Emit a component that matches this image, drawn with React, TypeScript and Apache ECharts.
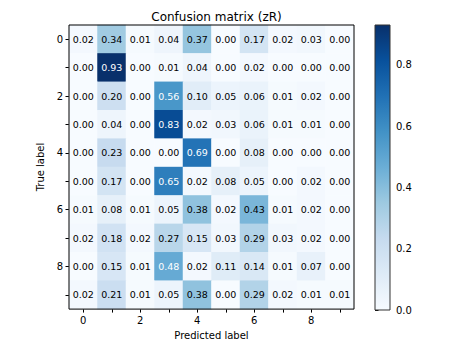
import React, { useEffect, useRef } from "react";
import * as echarts from "echarts";

const predictedLabels = ["0", "1", "2", "3", "4", "5", "6", "7", "8", "9"];
const trueLabels = ["0", "1", "2", "3", "4", "5", "6", "7", "8", "9"];
const row0 = [0.02, 0.34, 0.01, 0.04, 0.37, 0.0, 0.17, 0.02, 0.03, 0.0];
const row1 = [0.0, 0.93, 0.0, 0.01, 0.04, 0.0, 0.02, 0.0, 0.0, 0.0];
const row2 = [0.0, 0.2, 0.0, 0.56, 0.1, 0.05, 0.06, 0.01, 0.02, 0.0];
const row3 = [0.0, 0.04, 0.0, 0.83, 0.02, 0.03, 0.06, 0.01, 0.01, 0.0];
const row4 = [0.0, 0.23, 0.0, 0.0, 0.69, 0.0, 0.08, 0.0, 0.0, 0.0];
const row5 = [0.0, 0.17, 0.0, 0.65, 0.02, 0.08, 0.05, 0.0, 0.02, 0.0];
const row6 = [0.01, 0.08, 0.01, 0.05, 0.38, 0.02, 0.43, 0.01, 0.02, 0.0];
const row7 = [0.02, 0.18, 0.02, 0.27, 0.15, 0.03, 0.29, 0.03, 0.02, 0.0];
const row8 = [0.0, 0.15, 0.01, 0.48, 0.02, 0.11, 0.14, 0.01, 0.07, 0.0];
const row9 = [0.02, 0.21, 0.01, 0.05, 0.38, 0.0, 0.29, 0.02, 0.01, 0.01];
const matrix = [row0, row1, row2, row3, row4, row5, row6, row7, row8, row9];
const colorbarTicks = [0, 0.2, 0.4, 0.6, 0.8];

const blues = ["#f7fbff", "#deebf7", "#c6dbef", "#9ecae1", "#6baed6", "#4292c6", "#2171b5", "#08519c", "#08306b"];

const FONT = "DejaVu Sans";

export default function App() {
  const ref = useRef<HTMLDivElement>(null);
  useEffect(() => {
    if (!ref.current) return;
    const chart = echarts.init(ref.current, null, { renderer: "svg" });
    let vmax = 0;
    matrix.forEach((r) => r.forEach((v) => (vmax = Math.max(vmax, v))));
    const data: any[] = [];
    matrix.forEach((r, i) =>
      r.forEach((v, j) => {
        data.push({
          value: [j, i, v],
          label: { color: v > vmax / 2 ? "#ffffff" : "#000000" },
        });
      })
    );
    const gL = 69, gT = 25, gW = 285, gH = 285;
    const cbL = 375, cbW = 15, cbT = 25, cbH = 285;
    const stops = blues.map((c, i) => ({ offset: i / (blues.length - 1), color: c }));
    chart.setOption({
      animation: false,
      backgroundColor: "#ffffff",
      textStyle: { fontFamily: FONT },
      title: {
        text: "Confusion matrix (zR)",
        left: gL + gW / 2,
        textAlign: "center",
        top: 6,
        textStyle: { fontFamily: FONT, fontSize: 12, fontWeight: "normal", color: "#000" },
      },
      grid: [
        { left: gL, top: gT, width: gW, height: gH, show: true, borderColor: "#000", borderWidth: 1, backgroundColor: "transparent", z: 5 },
        { left: cbL, top: cbT, width: cbW, height: cbH, show: true, borderColor: "#333", borderWidth: 1, backgroundColor: "transparent", z: 5 },
      ],
      xAxis: [
        {
          type: "category",
          gridIndex: 0,
          data: predictedLabels,
          name: "Predicted label",
          nameLocation: "middle",
          nameGap: 19,
          nameTextStyle: { fontFamily: FONT, fontSize: 10, color: "#000" },
          axisLine: { show: false },
          axisTick: { show: true, alignWithLabel: true, interval: 0, length: 3.5, lineStyle: { color: "#000" } },
          axisLabel: { interval: 1, fontFamily: FONT, fontSize: 10, color: "#000", margin: 6 },
          splitLine: { show: false },
        },
        { type: "value", gridIndex: 1, show: false, min: 0, max: 1 },
      ],
      yAxis: [
        {
          type: "category",
          gridIndex: 0,
          data: trueLabels,
          inverse: true,
          name: "True label",
          nameLocation: "middle",
          nameGap: 18,
          nameRotate: 90,
          nameTextStyle: { fontFamily: FONT, fontSize: 10, color: "#000" },
          axisLine: { show: false },
          axisTick: { show: true, alignWithLabel: true, interval: 0, length: 3.5, lineStyle: { color: "#000" } },
          axisLabel: { interval: 1, fontFamily: FONT, fontSize: 10, color: "#000", margin: 6 },
          splitLine: { show: false },
        },
        {
          type: "value",
          gridIndex: 1,
          position: "right",
          min: 0,
          max: vmax,
          interval: 0.2,
          axisLine: { show: false },
          axisTick: { show: true, length: 3.5, lineStyle: { color: "#000" } },
          axisLabel: {
            fontFamily: FONT,
            fontSize: 10,
            color: "#000",
            margin: 6,
            formatter: (v: number) => (colorbarTicks.some((t) => Math.abs(t - v) < 1e-6) ? v.toFixed(1) : ""),
          },
          splitLine: { show: false },
        },
      ],
      visualMap: {
        show: false,
        type: "continuous",
        min: 0,
        max: vmax,
        seriesIndex: 0,
        dimension: 2,
        inRange: { color: blues },
      },
      graphic: [
        {
          type: "rect",
          shape: { x: cbL, y: cbT, width: cbW, height: cbH },
          style: { fill: new echarts.graphic.LinearGradient(0, 1, 0, 0, stops) },
          z: 1,
        },
      ],
      series: [
        {
          type: "heatmap",
          xAxisIndex: 0,
          yAxisIndex: 0,
          data,
          label: {
            show: true,
            fontFamily: FONT,
            fontSize: 9.5,
            formatter: (p: any) => p.value[2].toFixed(2),
          },
          itemStyle: { borderWidth: 0 },
          emphasis: { disabled: true },
        },
      ],
    });
    return () => chart.dispose();
  }, []);
  return <div ref={ref} style={{ position: "fixed", left: 0, top: 0, width: 453, height: 345 }} />;
}
